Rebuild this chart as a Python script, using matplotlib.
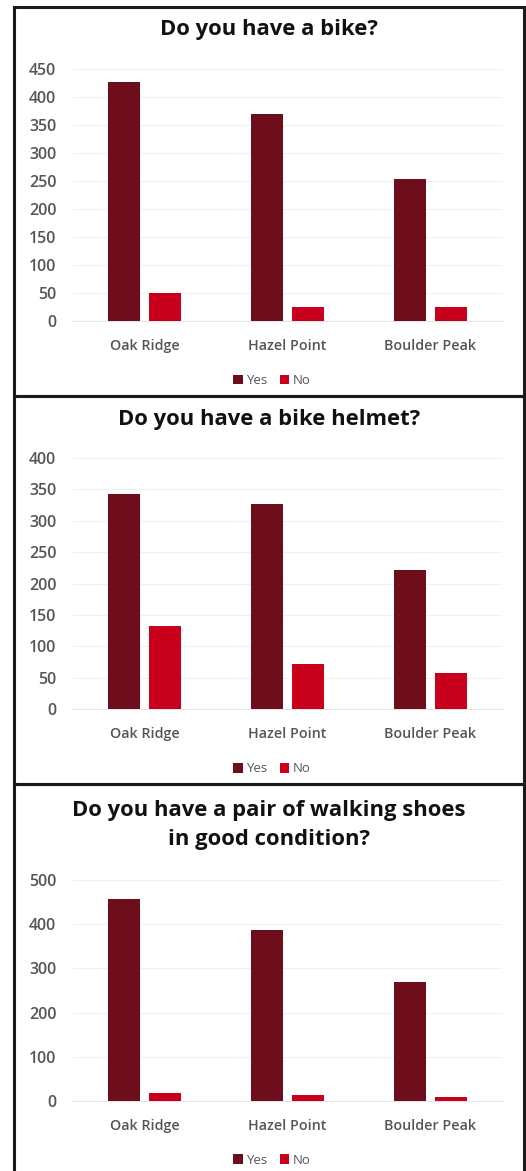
import matplotlib
matplotlib.use("Agg")
import matplotlib.pyplot as plt
from matplotlib.patches import Rectangle
import numpy as np

plt.rcParams['font.family'] = ['Open Sans', 'DejaVu Sans']

categories = ["Oak Ridge", "Hazel Point", "Boulder Peak"]
series_names = ["Yes", "No"]

bike_yes = [427, 370, 254]
bike_no = [50, 25, 25]
helmet_yes = [343, 326, 221]
helmet_no = [132, 72, 58]
shoes_yes = [457, 386, 270]
shoes_no = [17, 13, 10]

titles = ["Do you have a bike?",
          "Do you have a bike helmet?",
          "Do you have a pair of walking shoes\nin good condition?"]
ymax = [450, 400, 500]
ystep = [50, 50, 100]

YES_COLOR = "#6e0d1c"
NO_COLOR = "#c8001c"
TEXT_GRAY = "#555555"

W, H = 526, 1171
fig = plt.figure(figsize=(W / 100, H / 100), dpi=100)

def fx(px):
    return px / W

def fy(py):
    return 1 - py / H

# panel borders (pixel coords: top, bottom)
panels = [(7, 396), (396, 784), (784, 1172)]
for top, bot in panels:
    fig.patches.append(Rectangle((fx(14), fy(bot)), fx(524) - fx(14), fy(top) - fy(bot),
                                 transform=fig.transFigure, fill=False,
                                 edgecolor="#1a1a1a", linewidth=2.2, zorder=10))

# axes pixel boxes: (left, right, top, bottom)
ax_boxes = [(73, 502, 69, 321), (73, 502, 458, 709), (73, 502, 880, 1101)]
title_y = [29, 419, 825]
legend_y = [381, 769, 1160]

data = [(bike_yes, bike_no), (helmet_yes, helmet_no), (shoes_yes, shoes_no)]

for i, ((yes, no), (l, r, t, b)) in enumerate(zip(data, ax_boxes)):
    ax = fig.add_axes([fx(l), fy(b), fx(r) - fx(l), fy(t) - fy(b)])
    x = np.arange(len(categories))
    bw = 0.224
    off = 0.143
    h1 = ax.bar(x - off, yes, bw, color=YES_COLOR, label=series_names[0], zorder=3)
    h2 = ax.bar(x + off, no, bw, color=NO_COLOR, label=series_names[1], zorder=3)
    ax.set_xlim(-0.5, len(categories) - 0.5)
    ax.set_ylim(0, ymax[i])
    ax.set_yticks(np.arange(0, ymax[i] + 1, ystep[i]))
    ax.set_xticks(x)
    ax.set_xticklabels(categories, fontsize=10.3, color=TEXT_GRAY, fontweight="semibold")
    ax.tick_params(axis="y", labelsize=11.5, colors=TEXT_GRAY, length=0, pad=12)
    for lab in ax.get_yticklabels():
        lab.set_fontweight("semibold")
    ax.tick_params(axis="x", length=0, pad=13)
    for s in ["top", "right", "left"]:
        ax.spines[s].set_visible(False)
    ax.spines["bottom"].set_color("#e6e6e6")
    ax.grid(axis="y", color="#f0f0f0", linewidth=0.8, zorder=0)
    ax.set_axisbelow(True)
    fig.text(fx(269), fy(title_y[i]), titles[i], ha="center", va="center",
             fontsize=15.8, fontweight="bold", color="#111111", linespacing=1.5)
    fig.legend(handles=[h1, h2], labels=series_names, loc="center",
               bbox_to_anchor=(fx(272), fy(legend_y[i])), ncol=2, frameon=False,
               fontsize=9.5, labelcolor=TEXT_GRAY, handlelength=0.7, handleheight=0.7,
               handletextpad=0.3, columnspacing=0.9, borderaxespad=0)

fig.savefig("out.png", dpi=100, facecolor="white")
